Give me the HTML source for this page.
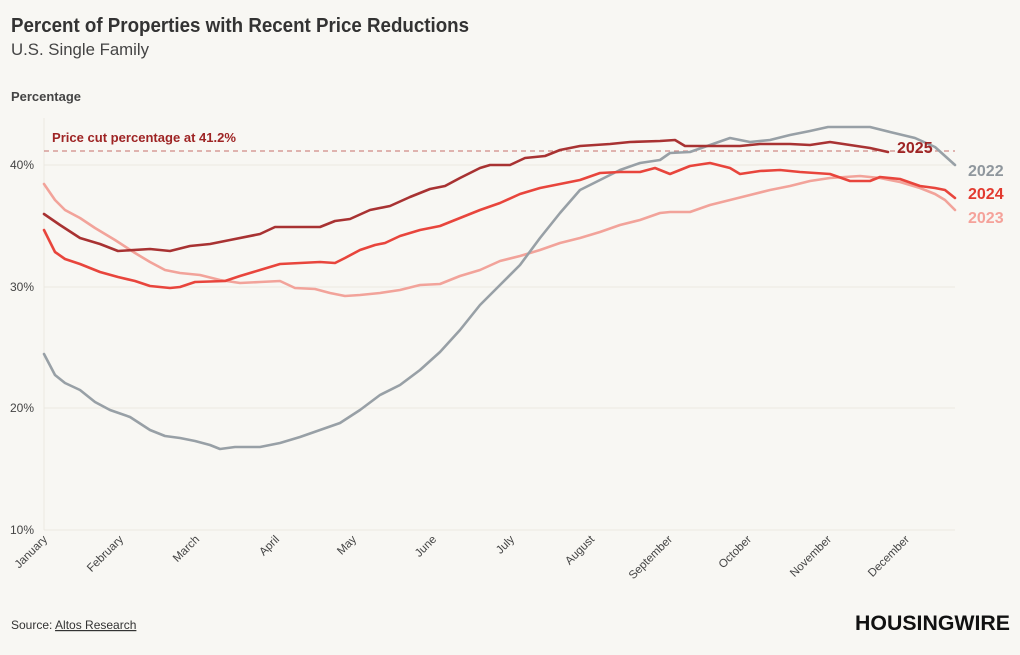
<!DOCTYPE html>
<html><head><meta charset="utf-8"><style>
body{margin:0;background:#f8f7f3;width:1020px;height:650px;overflow:hidden;font-family:"Liberation Sans",sans-serif}
</style></head><body>
<svg width="1020" height="650" xmlns="http://www.w3.org/2000/svg" font-family="Liberation Sans, sans-serif">
<rect width="1020" height="650" fill="#f8f7f3"/>
<text x="11" y="32" font-size="20" font-weight="bold" fill="#333" textLength="458" lengthAdjust="spacingAndGlyphs">Percent of Properties with Recent Price Reductions</text>
<text x="11" y="55" font-size="17" fill="#444" textLength="138" lengthAdjust="spacingAndGlyphs">U.S. Single Family</text>
<text x="11" y="101" font-size="13" font-weight="bold" fill="#444" textLength="70" lengthAdjust="spacingAndGlyphs">Percentage</text>
<g stroke="#ebe8e2" stroke-width="1">
<line x1="44" y1="165" x2="955" y2="165"/><line x1="44" y1="287" x2="955" y2="287"/><line x1="44" y1="408" x2="955" y2="408"/><line x1="44" y1="530" x2="955" y2="530"/><line x1="44" y1="118" x2="44" y2="530"/>
</g>
<g font-size="12" fill="#444" text-anchor="end">
<text x="34" y="169">40%</text><text x="34" y="291">30%</text><text x="34" y="412">20%</text><text x="34" y="534">10%</text>
</g>
<g font-size="11.5" fill="#444" text-anchor="end">
<text transform="translate(48,540) rotate(-45)">January</text>
<text transform="translate(124,540) rotate(-45)">February</text>
<text transform="translate(200,540) rotate(-45)">March</text>
<text transform="translate(280,540) rotate(-45)">April</text>
<text transform="translate(357,540) rotate(-45)">May</text>
<text transform="translate(437,540) rotate(-45)">June</text>
<text transform="translate(515,540) rotate(-45)">July</text>
<text transform="translate(595,540) rotate(-45)">August</text>
<text transform="translate(673,540) rotate(-45)">September</text>
<text transform="translate(752,540) rotate(-45)">October</text>
<text transform="translate(832,540) rotate(-45)">November</text>
<text transform="translate(910,540) rotate(-45)">December</text>
</g>
<line x1="44" y1="151" x2="955" y2="151" stroke="#d08a86" stroke-width="1.3" stroke-dasharray="5,4"/>
<text x="52" y="142" font-size="13" font-weight="bold" fill="#9e2424" textLength="184" lengthAdjust="spacingAndGlyphs">Price cut percentage at 41.2%</text>
<g fill="none" stroke-width="2.6" stroke-linejoin="round" stroke-linecap="round">
<polyline stroke="#f2a39a" points="44,184 55,200 65,210 80,218 95,228 115,240 135,253 150,262 165,270 180,273 200,275 220,280 240,283 260,282 280,281 295,288 315,289 330,293 345,296 360,295 380,293 400,290 420,285 440,284 460,276 480,270 500,261 520,256 540,250 560,243 580,238 600,232 620,225 640,220 660,213 670,212 690,212 710,205 730,200 750,195 770,190 790,186 810,181 830,178 860,176 880,178 900,182 920,188 935,194 945,200 955,210"/>
<polyline stroke="#98a0a6" points="44,354 55,375 65,383 80,390 95,402 110,410 130,417 150,430 165,436 180,438 195,441 210,445 220,449 235,447 260,447 280,443 300,437 320,430 340,423 360,410 380,395 400,385 420,370 440,352 460,330 480,305 500,285 520,265 540,238 560,213 580,190 600,180 620,170 640,163 660,160 670,153 690,152 710,145 730,138 750,142 770,140 790,135 810,131 828,127 870,127 890,132 915,138 935,147 955,165"/>
<polyline stroke="#e8453c" points="44,230 55,252 65,259 80,264 100,272 118,277 135,281 150,286 170,288 180,287 195,282 225,281 240,276 260,270 280,264 300,263 320,262 335,263 345,258 360,250 375,245 385,243 400,236 420,230 440,226 460,218 480,210 500,203 520,194 540,188 560,184 580,180 600,173 620,172 640,172 655,168 670,174 690,166 710,163 730,168 740,174 760,171 780,170 800,172 830,174 850,181 870,181 880,177 900,179 920,186 935,188 945,190 955,198"/>
<polyline stroke="#a83232" points="44,214 60,225 80,238 100,244 118,251 150,249 170,251 190,246 210,244 230,240 260,234 275,227 320,227 335,221 350,219 370,210 390,206 410,197 430,189 445,186 460,178 480,168 490,165 510,165 525,158 545,156 560,150 580,146 610,144 630,142 660,141 675,140 685,146 720,146 740,146 760,144 790,144 810,145 830,142 850,145 870,148 888,152"/>
</g>
<g font-size="16" font-weight="bold">
<text x="897" y="153" fill="#9e2424">2025</text>
<text x="968" y="176" fill="#8f979d">2022</text>
<text x="968" y="199" fill="#e23a2f">2024</text>
<text x="968" y="223" fill="#f5a29a">2023</text>
</g>
<text x="11" y="629" font-size="12" fill="#333">Source: <tspan text-decoration="underline">Altos Research</tspan></text>
<text x="855" y="630" font-size="21" font-weight="bold" fill="#111" textLength="155" lengthAdjust="spacingAndGlyphs">HOUSINGWIRE</text>
</svg>
</body></html>
